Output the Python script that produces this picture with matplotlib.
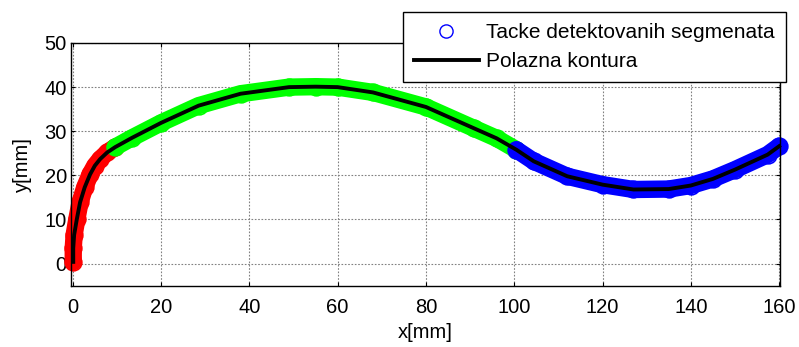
#!/usr/bin/env python3
import matplotlib
matplotlib.use('Agg')
import matplotlib.pyplot as plt
from matplotlib.lines import Line2D
import numpy as np

plt.rc('font', **{'family': 'sans-serif', 'sans-serif': ['Liberation Sans'], 'size': 14.5})

# detected segments, one array pair per segment
red_x = [0.1, 0.1, 0.3, 0.9, 1.65, 2.7, 3.9, 5.0, 6.2, 7.8, 9.6]
red_y = [0.4, 3.5, 6.5, 10.0, 13.9, 17.3, 20.2, 22.2, 23.7, 25.2, 26.4]

green_x = [9.6, 13.4, 20.0, 28.5, 38.0, 49.0, 55.0, 60.0, 68.0, 80.0, 90.8, 96.0, 100.5]
green_y = [26.4, 28.5, 31.9, 35.8, 38.5, 40.0, 40.1, 40.0, 38.8, 35.5, 30.7, 28.4, 25.8]

blue_x = [100.5, 104.4, 112.0, 120.0, 127.0, 135.0, 140.0, 145.0, 150.0, 157.4, 160.0]
blue_y = [25.8, 23.2, 19.8, 17.9, 16.8, 16.9, 17.7, 19.2, 21.3, 24.7, 26.6]

segments = [(red_x, red_y, '#ff0000'), (green_x, green_y, '#00ff00'), (blue_x, blue_y, '#0000ff')]

# starting contour goes through all segments
contour_x = red_x + green_x[1:] + blue_x[1:]
contour_y = red_y + green_y[1:] + blue_y[1:]

xticks = [0, 20, 40, 60, 80, 100, 120, 140, 160]
yticks = [0, 10, 20, 30, 40, 50]

fig = plt.figure(figsize=(7.99, 3.47), dpi=100)
ax = fig.add_axes([0.0889, 0.1767, 0.9762 - 0.0889, 0.8761 - 0.1767])

for sx, sy, col in segments:
    ax.plot(sx, sy, '-', color=col, lw=12.5, solid_capstyle='round', solid_joinstyle='round',
            zorder=2, clip_on=False)
    ax.plot(sx, sy, 'o', mfc='none', mec=col, ms=12.0, mew=1.2, zorder=2, clip_on=False)

ax.plot(contour_x, contour_y, '-', color='black', lw=2.8, zorder=3, clip_on=False)

ax.set_xlim(-0.4, 160.2)
ax.set_ylim(-5, 50)
ax.set_xticks(xticks)
ax.set_yticks(yticks)
ax.tick_params(direction='in', top=True, right=True, length=3, width=0.8)
ax.tick_params(axis='x', pad=9)
ax.tick_params(axis='y', pad=3)
ax.grid(color='0.5', linestyle=(0, (1.5, 1.5)), linewidth=0.8)
for sp in ax.spines.values():
    sp.set_linewidth(1.0)

ax.set_xlabel('x[mm]', labelpad=4)
ax.set_ylabel('y[mm]', labelpad=9)

handles = [Line2D([], [], ls='none', marker='o', mfc='none', mec='#0000ff', ms=9.5, mew=1.0),
           Line2D([], [], color='black', lw=2.8)]
labels = ['Tacke detektovanih segmenata', 'Polazna kontura']
leg = fig.legend(handles, labels, loc='upper right', bbox_to_anchor=(0.9837, 0.9654),
                 borderaxespad=0, fancybox=False, framealpha=1, edgecolor='black',
                 handlelength=3.1, handletextpad=0.35, labelspacing=0.45, borderpad=0.55,
                 fontsize=15)
leg.get_frame().set_linewidth(1.0)

fig.savefig('out.png', dpi=100)
